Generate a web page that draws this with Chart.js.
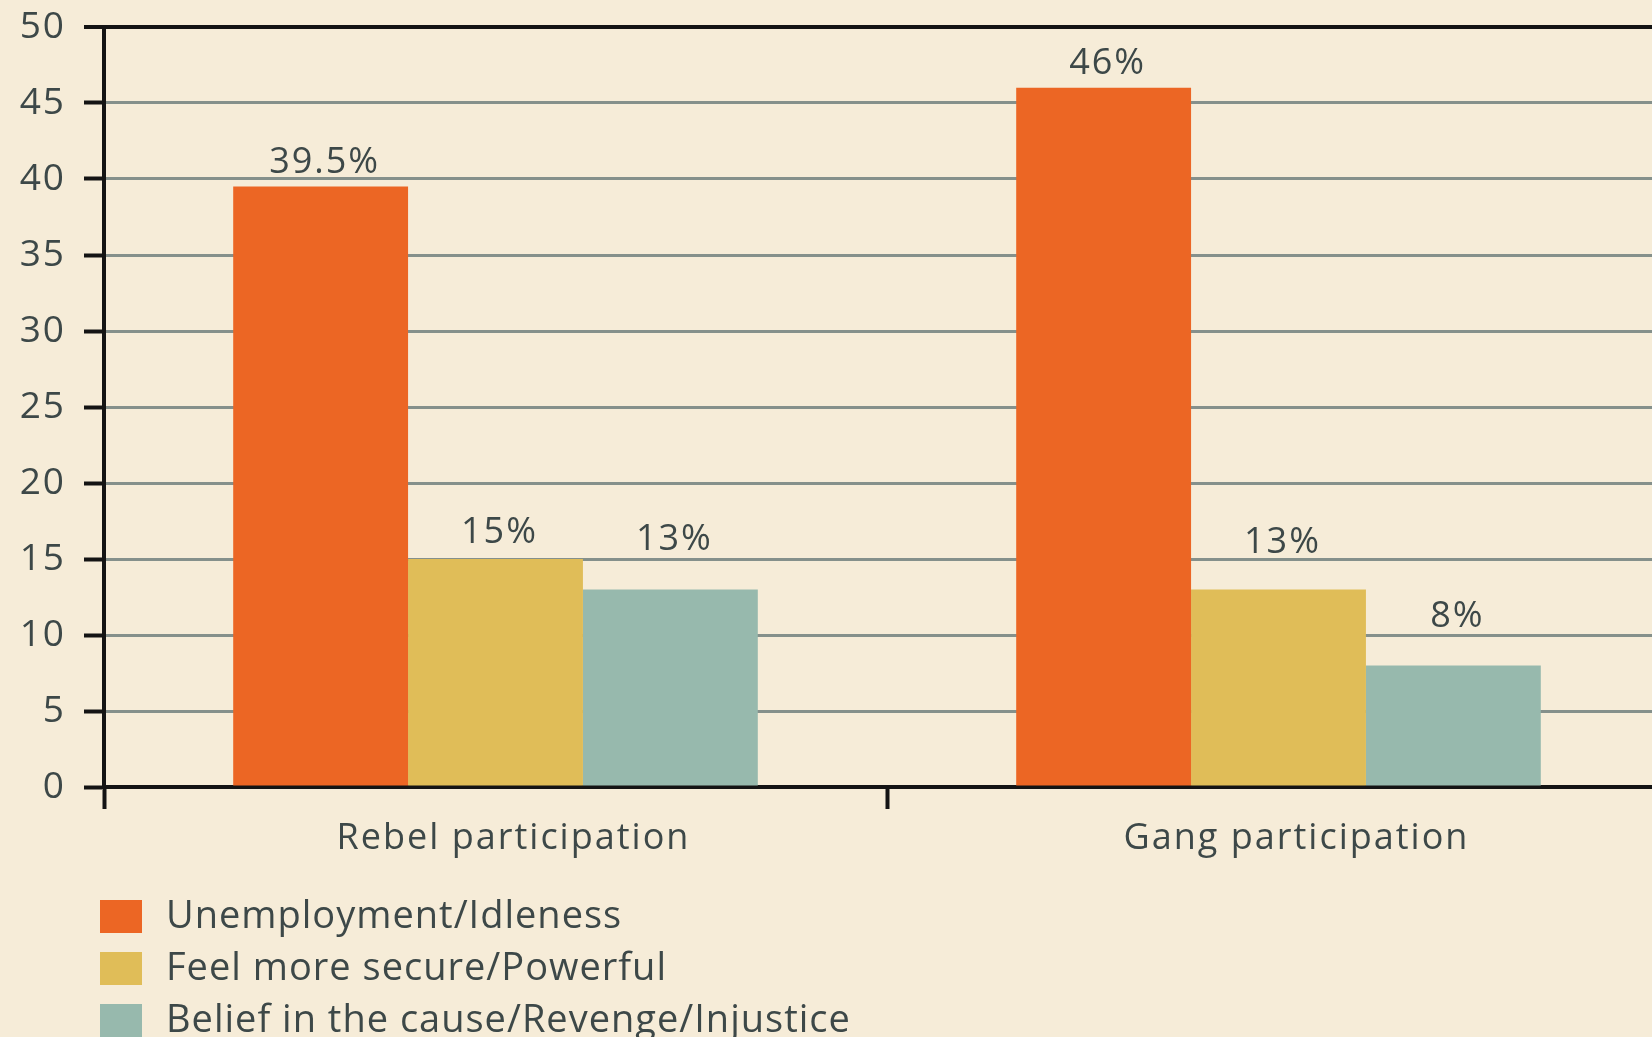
<!DOCTYPE html>
<html>
<head>
<meta charset="utf-8">
<script src="https://cdn.jsdelivr.net/npm/chart.js@4/dist/chart.umd.min.js"></script>
<style>
  html, body { margin: 0; padding: 0; background: #f6ecd8; overflow: hidden; }
  #wrap { position: relative; width: 1670px; height: 1037px; }
</style>
</head>
<body>
<div id="wrap"><canvas id="chart"></canvas></div>
<script>
const categories = ['Rebel participation', 'Gang participation'];
const seriesNames = ['Unemployment/Idleness', 'Feel more secure/Powerful', 'Belief in the cause/Revenge/Injustice'];
const unemployment = [39.5, 46];
const secure = [15, 13];
const belief = [13, 8];
const yTicks = [0, 5, 10, 15, 20, 25, 30, 35, 40, 45, 50];

const colors = ['#ec6624', '#e0bd58', '#97b9ad'];
const textColor = '#3d4848';
const fontFamily = '"Open Sans", sans-serif';
// how far above each bar top its label sits (per dataset, per category)
const labelLift = [[24, 24], [26, 47], [50, 49]];

// the original type is slightly tracked out
const tracking = {
    id: 'tracking',
    beforeDraw(chart) { chart.ctx.letterSpacing = '2px'; }
};

const valueLabels = {
    id: 'valueLabels',
    afterDatasetsDraw(chart) {
        const ctx = chart.ctx;
        ctx.save();
        ctx.letterSpacing = '2px';
        ctx.font = '36px ' + fontFamily;
        ctx.fillStyle = textColor;
        ctx.textAlign = 'center';
        ctx.textBaseline = 'middle';
        chart.data.datasets.forEach((ds, i) => {
            chart.getDatasetMeta(i).data.forEach((bar, j) => {
                ctx.fillText(ds.data[j] + '%', bar.x + 4, bar.y - labelLift[i][j]);
            });
        });
        ctx.restore();
    }
};

const boxLegend = {
    id: 'boxLegend',
    afterDraw(chart) {
        const ctx = chart.ctx;
        const left = chart.chartArea.left - 4;
        const top = chart.chartArea.bottom + 113;
        ctx.save();
        ctx.letterSpacing = '1px';
        ctx.font = '38px ' + fontFamily;
        ctx.textBaseline = 'middle';
        chart.data.datasets.forEach((ds, i) => {
            const y = top + i * 52;
            ctx.fillStyle = ds.backgroundColor;
            ctx.fillRect(left, y, 42, 33);
            ctx.fillStyle = textColor;
            ctx.fillText(ds.label, left + 66, y + 17);
        });
        ctx.restore();
    }
};

new Chart(document.getElementById('chart'), {
    type: 'bar',
    data: {
        labels: categories,
        datasets: [
            { label: seriesNames[0], data: unemployment, backgroundColor: colors[0] },
            { label: seriesNames[1], data: secure, backgroundColor: colors[1] },
            { label: seriesNames[2], data: belief, backgroundColor: colors[2] }
        ]
    },
    options: {
        responsive: true,
        maintainAspectRatio: false,
        animation: false,
        datasets: {
            bar: { categoryPercentage: 0.67, barPercentage: 1, borderWidth: 0 }
        },
        layout: { padding: { top: 27, right: 0, bottom: 160, left: 0 } },
        plugins: {
            legend: { display: false },
            tooltip: { enabled: false }
        },
        scales: {
            x: {
                afterFit: s => { s.height = 90; },
                grid: {
                    offset: true,
                    drawOnChartArea: false,
                    tickLength: 22,
                    tickColor: '#141414',
                    tickWidth: 4
                },
                border: { color: '#141414', width: 4 },
                ticks: {
                    color: textColor,
                    padding: 8,
                    labelOffset: 18,
                    font: { family: fontFamily, size: 36 }
                }
            },
            y: {
                min: 0,
                max: 50,
                afterFit: s => { s.width = 104; s.paddingTop = 0; s.paddingBottom = 0; },
                afterBuildTicks: s => { s.ticks = yTicks.map(v => ({ value: v })); },
                grid: {
                    color: c => c.tick && c.tick.value === 50 ? '#141414' : '#85908b',
                    lineWidth: c => c.tick && c.tick.value === 50 ? 4 : 3,
                    tickLength: 20,
                    tickColor: '#141414',
                    tickWidth: 4
                },
                border: { color: '#141414', width: 4 },
                ticks: {
                    color: textColor,
                    padding: 18,
                    font: { family: fontFamily, size: 37 }
                }
            }
        }
    },
    plugins: [tracking, valueLabels, boxLegend]
});
</script>
</body>
</html>
